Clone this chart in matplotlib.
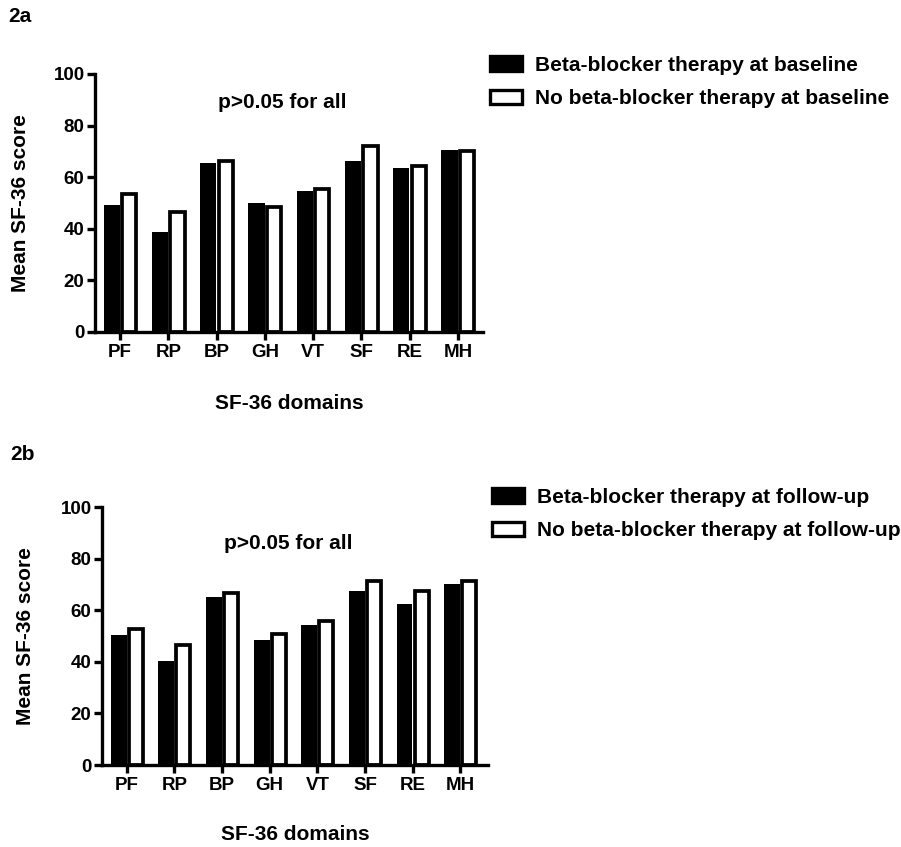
import numpy as np
import matplotlib
matplotlib.use("Agg")
import matplotlib.pyplot as plt
from matplotlib.patches import Patch

plt.rcParams['font.family'] = ['Liberation Sans', 'DejaVu Sans']
plt.rcParams['font.weight'] = 'bold'

domains = ['PF', 'RP', 'BP', 'GH', 'VT', 'SF', 'RE', 'MH']

# 2a - baseline
bb_baseline = [49.3, 38.9, 65.4, 50.0, 54.5, 66.4, 63.4, 70.6]
no_bb_baseline = [53.5, 46.7, 66.1, 48.3, 55.5, 71.9, 64.5, 70.3]

# 2b - follow-up
bb_followup = [50.3, 40.5, 65.2, 48.6, 54.4, 67.6, 62.3, 70.0]
no_bb_followup = [52.8, 46.5, 66.8, 50.8, 55.9, 71.4, 67.4, 71.4]

W, H = 901, 847
fig = plt.figure(figsize=(W / 100, H / 100), dpi=100)

FS = 15
TFS = 13.5
LW = 2.4


def px_axes(left, top, right, bottom):
    return fig.add_axes([left / W, 1 - bottom / H, (right - left) / W, (bottom - top) / H])


def draw_panel(ax, black_vals, white_vals, labels, legend_xy, ptext_xy, xmax, ylab_x, xlab_y):
    x = np.arange(len(domains))
    w = 0.335
    ax.bar(x - w / 2 - 0.005, black_vals, w, color='black', edgecolor='black', linewidth=0)
    ax.bar(x + w / 2 + 0.02, white_vals, w - 0.04, color='white', edgecolor='black',
           linewidth=2.7, zorder=2)
    ax.set_xlim(-0.52, xmax)
    ax.set_ylim(0, 100)
    ax.set_yticks([0, 20, 40, 60, 80, 100])
    ax.set_xticks(x)
    ax.set_xticklabels(domains)
    for s in ['top', 'right']:
        ax.spines[s].set_visible(False)
    for s in ['left', 'bottom']:
        ax.spines[s].set_linewidth(LW)
    ax.tick_params(width=LW, length=5.5, labelsize=TFS, pad=2)
    ax.tick_params(axis='x', pad=3)
    for lab in ax.get_xticklabels() + ax.get_yticklabels():
        lab.set_fontweight('bold')
    ax.set_ylabel('Mean SF-36 score', fontsize=FS, fontweight='bold', va='center')
    ax.yaxis.set_label_coords(ylab_x, 0.5)
    ax.set_xlabel('SF-36 domains', fontsize=FS, fontweight='bold', va='center')
    ax.xaxis.set_label_coords(0.5, xlab_y)
    ax.text(ptext_xy[0], ptext_xy[1], 'p>0.05 for all', fontsize=FS, fontweight='bold',
            ha='center', va='center')
    handles = [Patch(facecolor='black', edgecolor='black', linewidth=LW),
               Patch(facecolor='white', edgecolor='black', linewidth=LW)]
    fig.legend(handles, labels, loc='upper left',
               bbox_to_anchor=(legend_xy[0] / W, 1 - legend_xy[1] / H),
               frameon=False, prop={'weight': 'bold', 'size': FS},
               handlelength=1.55, handleheight=0.7, handletextpad=0.62,
               labelspacing=0.68, borderpad=0, borderaxespad=0)


ax_a = px_axes(95, 74, 483, 332)
draw_panel(ax_a, bb_baseline, no_bb_baseline,
           ['Beta-blocker therapy at baseline', 'No beta-blocker therapy at baseline'],
           (490, 56), (3.37, 89), 7.52, -0.193, -0.279)

ax_b = px_axes(102, 507, 488, 765)
draw_panel(ax_b, bb_followup, no_bb_followup,
           ['Beta-blocker therapy at follow-up', 'No beta-blocker therapy at follow-up'],
           (492, 488), (3.38, 86), 7.58, -0.199, -0.271)

fig.text(8 / W, 1 - 17 / H, '2a', fontsize=FS, fontweight='bold', va='center', ha='left')
fig.text(10 / W, 1 - 454 / H, '2b', fontsize=FS, fontweight='bold', va='center', ha='left')

fig.savefig('out.png', dpi=100)
